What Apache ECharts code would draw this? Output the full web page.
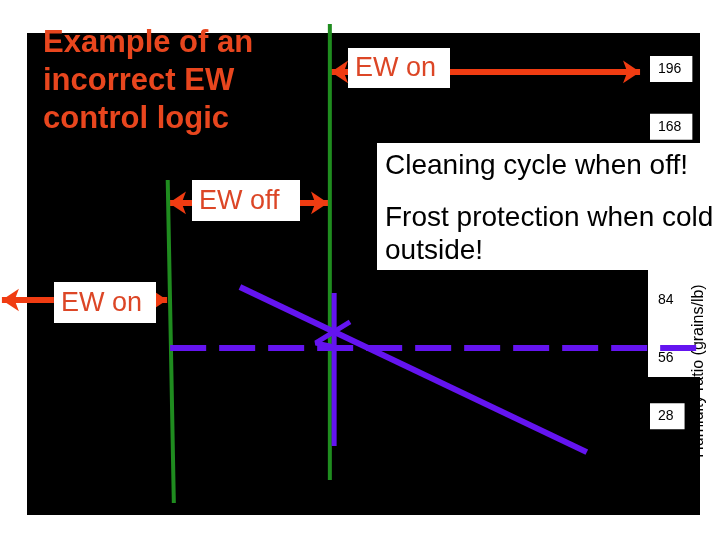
<!DOCTYPE html>
<html>
<head>
<meta charset="utf-8">
<script src="https://cdn.jsdelivr.net/npm/echarts@6/dist/echarts.min.js"></script>
<style>
  html, body { margin: 0; padding: 0; background: #fff; }
  #chart { width: 720px; height: 540px; }
</style>
</head>
<body>
<div id="chart"></div>
<script>
"use strict";

// chart values (x = arbitrary temperature units, y = humidity ratio grains/lb)
var yTicks = [28, 56, 84, 112, 140, 168, 196];
var titleLines = ['Example of an', 'incorrect EW', 'control logic'];
var noteLines = ['Cleaning cycle when off!', 'Frost protection when cold', 'outside!'];
var yName = 'Humidity ratio (grains/lb)';

var greenLow = [[23.0, 142.3], [23.5, 64.9], [24.0, -14.0]];
var greenHigh = [[49.5, 217.8], [49.5, -2.9]];
var outdoorLine = [[34.8, 90.5], [91.5, 10.6]];
var supplyLine = [[50.2, 87.6], [50.2, 13.6]];
var setpointLine = [[23.4, 61.0], [109.7, 61.0]];
var chevron = [[52.8, 73.6], [47.2, 63.4], [50.2, 61.5]];

var arrows = [
	[[52.5, 194.6], [49.7, 194.6]],
	[[69.1, 194.6], [100.2, 194.6]],
	[[27.0, 131.2], [23.2, 131.2]],
	[[44.6, 131.2], [49.2, 131.2]],
	[[4.4, 84.2], [-4.1, 84.2]],
	[[21.1, 84.2], [22.9, 84.2]]
];

var red = '#f03c12';
var green = '#1f8c1f';
var purple = '#6414f0';
var font = '"Liberation Sans", Arial, sans-serif';

function box(x, y, w, h, label) {
	return [{
		type : 'rect',
		z : 5,
		shape : { x : x, y : y, width : w, height : h },
		style : { fill : '#fff' }
	}, {
		type : 'text',
		z : 6,
		x : x + 7,
		y : y + h / 2 + 1,
		style : {
			text : label,
			fill : '#dc4626',
			font : '27px ' + font,
			verticalAlign : 'middle'
		}
	}];
}

function plainLine(data, width, color, dash) {
	return {
		type : 'line',
		data : data,
		symbol : 'none',
		clip : false,
		silent : true,
		lineStyle : { width : width, color : color, type : dash || 'solid', cap : 'butt' }
	};
}

var graphics = [{
	type : 'rect',
	z : -5,
	shape : { x : 27, y : 33, width : 673, height : 482 },
	style : { fill : '#000' }
}, {
	type : 'rect',
	z : -4,
	shape : { x : 648, y : 270, width : 52, height : 107 },
	style : { fill : '#fff' }
}, {
	type : 'text',
	z : -3,
	x : 699,
	y : 371,
	rotation : Math.PI / 2,
	style : {
		text : yName,
		fill : '#000',
		font : '16px ' + font,
		align : 'center',
		verticalAlign : 'middle'
	}
}, {
	type : 'rect',
	z : -2,
	shape : { x : 686, y : 377, width : 14, height : 138 },
	style : { fill : '#000' }
}, {
	type : 'text',
	z : 6,
	x : 43,
	y : 24,
	style : {
		text : titleLines.join('\n'),
		fill : '#e8461e',
		font : 'bold 31px ' + font,
		lineHeight : 38
	}
}, {
	type : 'rect',
	z : 10,
	shape : { x : 377, y : 143, width : 343, height : 127 },
	style : { fill : '#fff' }
}, {
	type : 'text', z : 11, x : 385, y : 166,
	style : { text : noteLines[0], fill : '#000', font : '28px ' + font, verticalAlign : 'middle' }
}, {
	type : 'text', z : 11, x : 385, y : 218,
	style : { text : noteLines[1], fill : '#000', font : '28px ' + font, verticalAlign : 'middle' }
}, {
	type : 'text', z : 11, x : 385, y : 251,
	style : { text : noteLines[2], fill : '#000', font : '28px ' + font, verticalAlign : 'middle' }
}];

graphics = graphics.concat(box(348, 48, 102, 40, 'EW on'));
graphics = graphics.concat(box(192, 180, 108, 41, 'EW off'));
graphics = graphics.concat(box(54, 282, 102, 41, 'EW on'));

var chart = echarts.init(document.getElementById('chart'));

chart.setOption({
	backgroundColor : '#fff',
	animation : false,
	grid : {
		left : 27,
		right : 20,
		top : 69,
		bottom : 66
	},
	xAxis : {
		type : 'value',
		min : 0,
		max : 110,
		show : false
	},
	yAxis : {
		type : 'value',
		position : 'right',
		offset : -52,
		min : 0,
		max : 196,
		interval : 28,
		axisLine : { show : false },
		axisTick : { show : false },
		splitLine : { show : false },
		axisLabel : {
			showMinLabel : false,
			margin : 2,
			color : '#000',
			fontFamily : font,
			fontSize : 14,
			lineHeight : 14,
			backgroundColor : '#fff',
			padding : [ 2, 11, 10, 8 ],
			formatter : function(v) {
				return yTicks.indexOf(v) >= 0 ? String(v) : '';
			}
		}
	},
	graphic : { elements : graphics },
	series : [
		plainLine(greenLow, 4, green),
		plainLine(greenHigh, 4, green),
		plainLine(supplyLine, 5, purple),
		plainLine(outdoorLine, 6, purple),
		plainLine(setpointLine, 6, purple, [ 36, 13 ]),
		plainLine(chevron, 5, purple),
		{
			type : 'lines',
			coordinateSystem : 'cartesian2d',
			clip : false,
			silent : true,
			symbol : [ 'none', 'arrow' ],
			symbolSize : 17,
			lineStyle : { color : red, width : 6, opacity : 1 },
			data : arrows.map(function(a) {
				return { coords : a };
			})
		}
	]
});
</script>
</body>
</html>
